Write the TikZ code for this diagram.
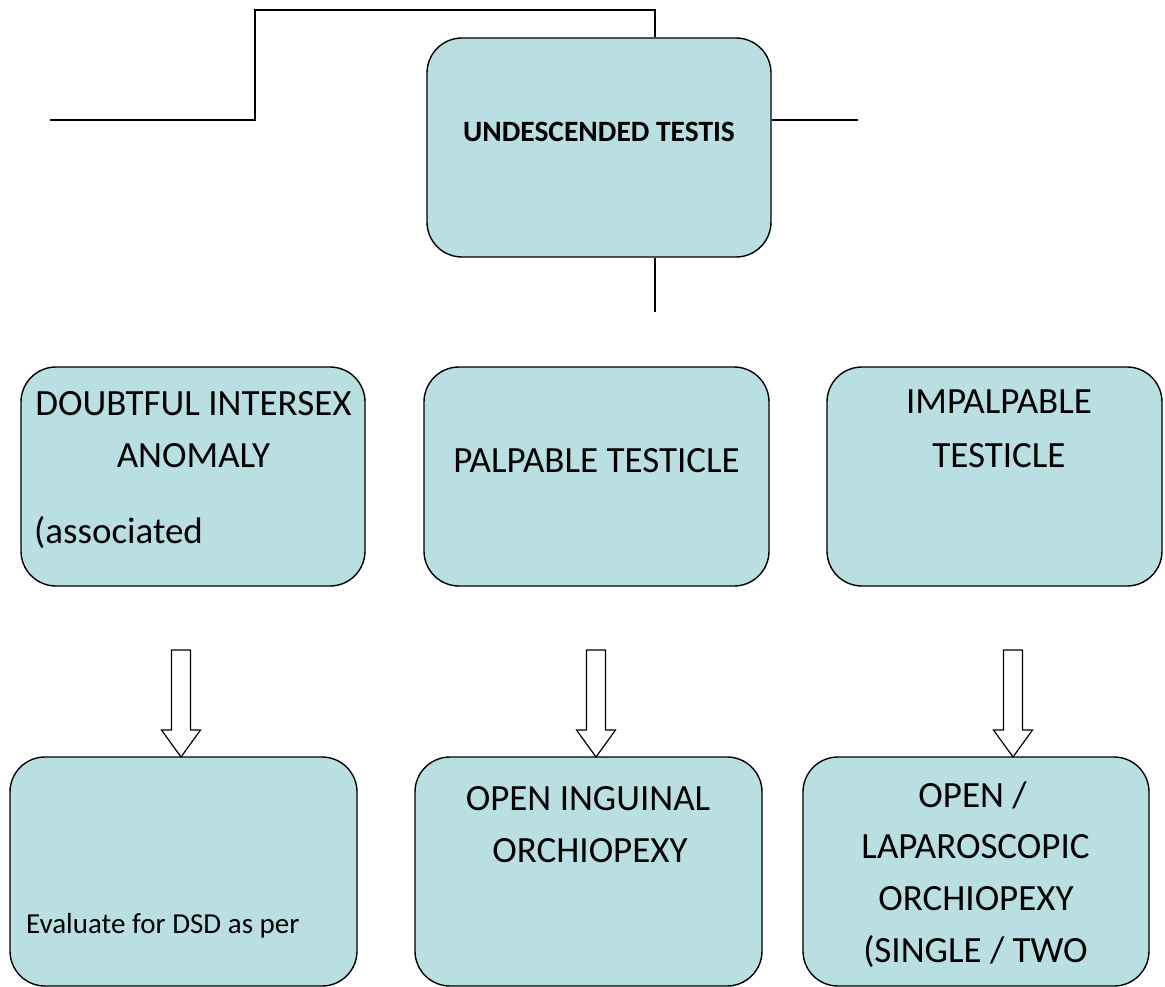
\documentclass[tikz,border=0pt]{standalone}
\usepackage{fontspec}
\setmainfont{Carlito}
\usepackage{xcolor}
\usepackage{tikz}
\definecolor{boxblue}{RGB}{185,223,227}
\tikzset{
  stepbox/.style={draw, line width=1.4pt, fill=boxblue, rounded corners=35pt,
    minimum width=344pt, minimum height=219pt, inner sep=0pt},
  lowbox/.style={stepbox, minimum width=347pt, minimum height=229pt},
  boxtext/.style={anchor=base, inner sep=0pt, font=\fontsize{37}{44}\selectfont},
  hollowarrow/.style={draw, line width=1.2pt, fill=white, line join=miter},
  link/.style={line width=1.4pt}
}

\begin{document}
\begin{tikzpicture}[x=1pt, y=-1pt]
        \useasboundingbox (0,0) rectangle (1165,987);
        \node[stepbox] (undesc) at (599,147.5) {};
        \node[stepbox] (doubtful) at (193,476.5) {};
        \node[stepbox, minimum width=345pt] (palpable) at (596.5,476.5) {};
        \node[stepbox, minimum width=335pt] (impalpable) at (994.5,476.5) {};
        \node[lowbox] (evaluate) at (183.5,871.5) {};
        \node[lowbox] (inguinal) at (588.5,871.5) {};
        \node[lowbox, minimum width=346pt] (laparo) at (976,871.5) {};

        \coordinate (leftend) at (50,120);
        \coordinate (rightend) at (858,120);
        \coordinate (downend) at (655,312);
        \draw[link] (leftend) -| (255,10) -| (undesc.north -| downend);
        \draw[link] (undesc.east |- rightend) -- (rightend);
        \draw[link] (undesc.south -| downend) -- (downend);

        \foreach \x in {181,596,1013}
          \draw[hollowarrow] (\x-9.5,650) -- (\x+9.5,650) -- (\x+9.5,730) -- (\x+19.5,730)
            -- (\x,757) -- (\x-19.5,730) -- (\x-9.5,730) -- cycle;

        \node[boxtext, font=\bfseries\fontsize{29.5}{35}\selectfont] (undesctext) at (599,142) {UNDESCENDED TESTIS};
        \node[boxtext] (doubtful1) at (193.5,415) {DOUBTFUL INTERSEX};
        \node[boxtext] (doubtful2) at (193.5,467) {ANOMALY};
        \node[boxtext, anchor=base west] (doubtful3) at (34,543) {(associated};
        \node[boxtext] (palpabletext) at (596.5,472) {PALPABLE TESTICLE};
        \node[boxtext] (impalpable1) at (999,413) {IMPALPABLE};
        \node[boxtext] (impalpable2) at (999,467) {TESTICLE};
        \node[boxtext, anchor=base west, font=\fontsize{29}{35}\selectfont] (evaluatetext) at (26,933) {Evaluate for DSD as per};
        \node[boxtext] (inguinal1) at (588,810) {OPEN INGUINAL};
        \node[boxtext] (inguinal2) at (590,862) {ORCHIOPEXY};
        \node[boxtext] (laparo1) at (972.5,807) {OPEN /};
        \node[boxtext] (laparo2) at (975.5,858) {LAPAROSCOPIC};
        \node[boxtext] (laparo3) at (976,910) {ORCHIOPEXY};
        \node[boxtext] (laparo4) at (975.5,962) {(SINGLE / TWO};
      \end{tikzpicture}
\end{document}
